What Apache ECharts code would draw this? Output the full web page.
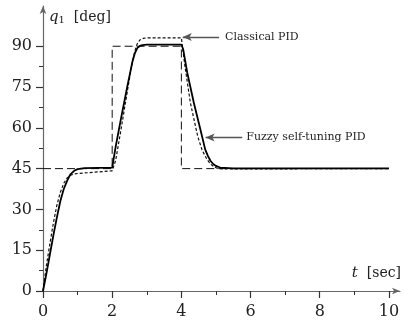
<!DOCTYPE html>
<html>
<head>
<meta charset="utf-8">
<script src="https://cdn.jsdelivr.net/npm/echarts@6/dist/echarts.min.js"></script>
<style>
  html, body { margin: 0; padding: 0; background: #fff; }
  #chart { width: 404px; height: 320px; }
</style>
</head>
<body>
<div id="chart"></div>
<script>
// 时间刻度与角度刻度
const xMajorTicks = [0, 2, 4, 6, 8, 10];
const xMinorTicks = [1, 3, 5, 7, 9];
const yMajorTicks = [0, 15, 30, 45, 60, 75, 90];
const yMinorTicks = [7.5, 22.5, 37.5, 52.5, 67.5, 82.5];

// 参考轨迹 (阶跃)
const refT = [0, 2, 2, 4, 4, 10];
const refQ = [45, 45, 90, 90, 45, 45];

// Classical PID
const classicT = [0, 0.1, 0.2, 0.3, 0.4, 0.5, 0.6, 0.7, 0.8, 0.9, 1.0, 1.2, 1.6, 2.0,
  2.1, 2.25, 2.4, 2.55, 2.65, 2.72, 2.8, 2.9, 3.0, 4.0,
  4.1, 4.26, 4.47, 4.6, 4.74, 4.85, 4.95, 5.05, 5.2, 10];
const classicQ = [0, 9.5, 17.5, 25, 31.5, 36.2, 39.6, 41.6, 42.6, 43, 43.2, 43.4, 43.8, 44.2,
  48, 59, 70.5, 82, 88, 90.8, 92.3, 92.9, 93.1, 93.1,
  83, 69.2, 57, 51.8, 48.4, 46.6, 45.6, 45.1, 44.9, 45];

// Fuzzy self-tuning PID
const fuzzyT = [0, 0.1, 0.2, 0.3, 0.4, 0.5, 0.6, 0.7, 0.75, 0.8, 0.9, 1.0, 1.2, 2.0,
  2.1, 2.25, 2.44, 2.59, 2.66, 2.73, 2.8, 2.87, 3.0, 4.0,
  4.05, 4.17, 4.36, 4.55, 4.69, 4.77, 4.84, 4.92, 5.0, 5.12, 5.5, 10];
const fuzzyQ = [0, 6.5, 13.5, 20.5, 27, 33, 37.5, 40.6, 41.9, 43, 44.2, 44.8, 45.2, 45.4,
  53, 63.1, 75.4, 84.6, 87.6, 89.4, 90.1, 90.4, 90.6, 90.6,
  89, 80.3, 69.2, 59.4, 52, 49.6, 47.9, 46.7, 46, 45.4, 45.1, 45.1];

const zip = (a, b) => a.map((v, i) => [v, b[i]]);

const chart = echarts.init(document.getElementById('chart'));
const serif = 'DejaVu Serif';
const axisColor = '#666';

const option = {
  animation: false,
  backgroundColor: '#fff',
  grid: { left: 43, right: 2, top: 6, bottom: 29, containLabel: false },
  xAxis: [
    {
      type: 'value', min: 0, max: 10.32,
      name: '{i|t}  [sec]',
      nameLocation: 'end',
      nameGap: 1,
      nameTextStyle: {
        fontFamily: serif, fontSize: 14, color: '#222',
        align: 'right', verticalAlign: 'bottom', padding: [0, 0, 10, 0],
        rich: { i: { fontFamily: serif, fontStyle: 'italic', fontSize: 15, color: '#222' } }
      },
      axisLine: { show: true, symbol: ['none', 'arrow'], symbolSize: [5, 8], lineStyle: { color: axisColor, width: 1.2 } },
      axisTick: { show: true, length: 7, customValues: xMajorTicks, lineStyle: { color: '#333', width: 1.2 } },
      axisLabel: { customValues: xMajorTicks, margin: 13, fontFamily: serif, fontSize: 16, color: '#222' },
      splitLine: { show: false }
    },
    {
      type: 'value', min: 0, max: 10.32, position: 'bottom',
      axisLine: { show: false },
      axisTick: { show: true, length: 4, customValues: xMinorTicks, lineStyle: { color: '#333', width: 1 } },
      axisLabel: { show: false },
      splitLine: { show: false }
    }
  ],
  yAxis: [
    {
      type: 'value', min: 0, max: 104.8,
      name: '{i|q}{s|1}  [deg]',
      nameLocation: 'end',
      nameGap: -11,
      nameTextStyle: {
        fontFamily: serif, fontSize: 14, color: '#222',
        align: 'left', verticalAlign: 'middle', padding: [0, 0, 0, 6],
        rich: {
          i: { fontFamily: serif, fontStyle: 'italic', fontSize: 15, color: '#222' },
          s: { fontFamily: serif, fontSize: 10, color: '#222', verticalAlign: 'bottom', padding: [6, 0, 0, 0] }
        }
      },
      axisLine: { show: true, symbol: ['none', 'arrow'], symbolSize: [5, 8], lineStyle: { color: axisColor, width: 1.2 } },
      axisTick: { show: true, length: 7, customValues: yMajorTicks, lineStyle: { color: '#333', width: 1.2 } },
      axisLabel: { customValues: yMajorTicks, margin: 11, fontFamily: serif, fontSize: 16, color: '#222' },
      splitLine: { show: false }
    },
    {
      type: 'value', min: 0, max: 104.8, position: 'left',
      axisLine: { show: false },
      axisTick: { show: true, length: 4, customValues: yMinorTicks, lineStyle: { color: '#333', width: 1 } },
      axisLabel: { show: false },
      splitLine: { show: false }
    }
  ],
  series: [
    {
      name: 'Reference',
      type: 'line',
      data: zip(refT, refQ),
      showSymbol: false,
      lineStyle: { color: '#111', width: 1, type: [8, 4] },
      z: 2
    },
    {
      name: 'Classical PID',
      type: 'line',
      data: zip(classicT, classicQ),
      showSymbol: false,
      lineStyle: { color: '#111', width: 1.2, type: [3, 2] },
      z: 3,
      markLine: {
        silent: true,
        symbol: ['none', 'arrow'],
        symbolSize: [6, 9],
        lineStyle: { color: '#555', width: 1.3, type: 'solid' },
        label: { show: true, position: 'start', distance: 6, formatter: 'Classical PID', fontFamily: serif, fontSize: 11, color: '#222' },
        data: [[{ coord: [5.09, 93.4] }, { coord: [4.04, 93.4] }]]
      }
    },
    {
      name: 'Fuzzy self-tuning PID',
      type: 'line',
      data: zip(fuzzyT, fuzzyQ),
      showSymbol: false,
      lineStyle: { color: '#000', width: 1.8, type: 'solid' },
      z: 4,
      markLine: {
        silent: true,
        symbol: ['none', 'arrow'],
        symbolSize: [6, 9],
        lineStyle: { color: '#555', width: 1.3, type: 'solid' },
        label: { show: true, position: 'start', distance: 4, formatter: 'Fuzzy self-tuning PID', fontFamily: serif, fontSize: 11, color: '#222' },
        data: [[{ coord: [5.76, 56.4] }, { coord: [4.7, 56.4] }]]
      }
    }
  ]
};

option && chart.setOption(option);
</script>
</body>
</html>
